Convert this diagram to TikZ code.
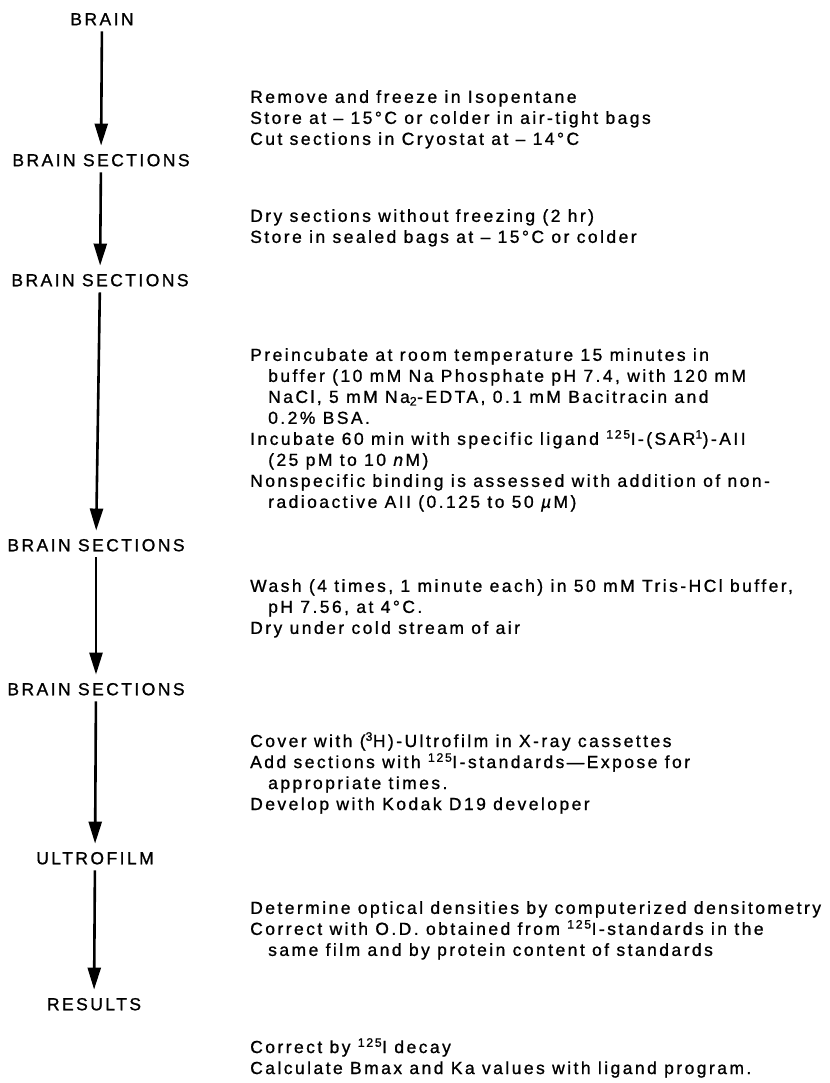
\documentclass[tikz,border=0pt]{standalone}
\usepackage{fontspec}
\setmainfont{Liberation Sans}[LetterSpace=14,FakeBold=1]
\usetikzlibrary{arrows.meta}
\tikzset{
  stage/.style={inner sep=0pt, text height=12.5pt, text depth=0pt, font=\fontsize{17.5}{21}\selectfont},
  note/.style={anchor=north west, inner sep=0pt, align=left, font=\fontsize{17.5}{21}\selectfont},
  flow/.style={line width=2.6pt, -{Triangle[width=13pt,length=22pt]}, shorten <=6pt, shorten >=8pt},
}
\newcommand{\ind}{\hspace*{18pt}}
\begin{document}
\begin{tikzpicture}[x=1pt,y=-1pt]
\fill[white] (0,0) rectangle (829,1083);
\useasboundingbox (0,0) rectangle (829,1083);
\node[stage] (brain) at (102,19) {BRAIN};
\node[stage] (bs1) at (101,160) {BRAIN SECTIONS};
\node[stage] (bs2) at (100,280) {BRAIN SECTIONS};
\node[stage] (bs3) at (96,545) {BRAIN SECTIONS};
\node[stage] (bs4) at (96,689) {BRAIN SECTIONS};
\node[stage] (film) at (95,858) {ULTROFILM};
\node[stage] (res) at (94,1004) {RESULTS};
\draw[flow] (brain) -- (bs1);
\draw[flow] (bs1) -- (bs2);
\draw[flow] (bs2) -- (bs3);
\draw[flow] (bs3) -- (bs4);
\draw[flow] (bs4) -- (film);
\draw[flow] (film) -- (res);
\node[note] (n1) at (250,90) {Remove and freeze in Isopentane\\Store at – 15°C or colder in air-tight bags\\Cut sections in Cryostat at – 14°C};
\node[note] (n2) at (250,209) {Dry sections without freezing (2 hr)\\Store in sealed bags at – 15°C or colder};
\node[note] (n3) at (250,348) {Preincubate at room temperature 15 minutes in\\\ind buffer (10 mM Na Phosphate pH 7.4, with 120 mM\\\ind NaCl, 5 mM Na\textsubscript{2}-EDTA, 0.1 mM Bacitracin and\\\ind 0.2\% BSA.\\Incubate 60 min with specific ligand \textsuperscript{125}I-(SAR\textsuperscript{1})-AII\\\ind (25 pM to 10 \textit{n}M)\\Nonspecific binding is assessed with addition of non-\\\ind radioactive AII (0.125 to 50 \textit{µ}M)};
\node[note] (n4) at (250,579) {Wash (4 times, 1 minute each) in 50 mM Tris-HCl buffer,\\\ind pH 7.56, at 4°C.\\Dry under cold stream of air};
\node[note] (n5) at (250,732) {Cover with (\textsuperscript{3}H)-Ultrofilm in X-ray cassettes\\Add sections with \textsuperscript{125}I-standards—Expose for\\\ind appropriate times.\\Develop with Kodak D19 developer};
\node[note] (n6) at (250,901) {Determine optical densities by computerized densitometry\\Correct with O.D. obtained from \textsuperscript{125}I-standards in the\\\ind same film and by protein content of standards};
\node[note] (n7) at (250,1038) {Correct by \textsuperscript{125}I decay\\Calculate Bmax and Ka values with ligand program.};
\end{tikzpicture}
\end{document}
